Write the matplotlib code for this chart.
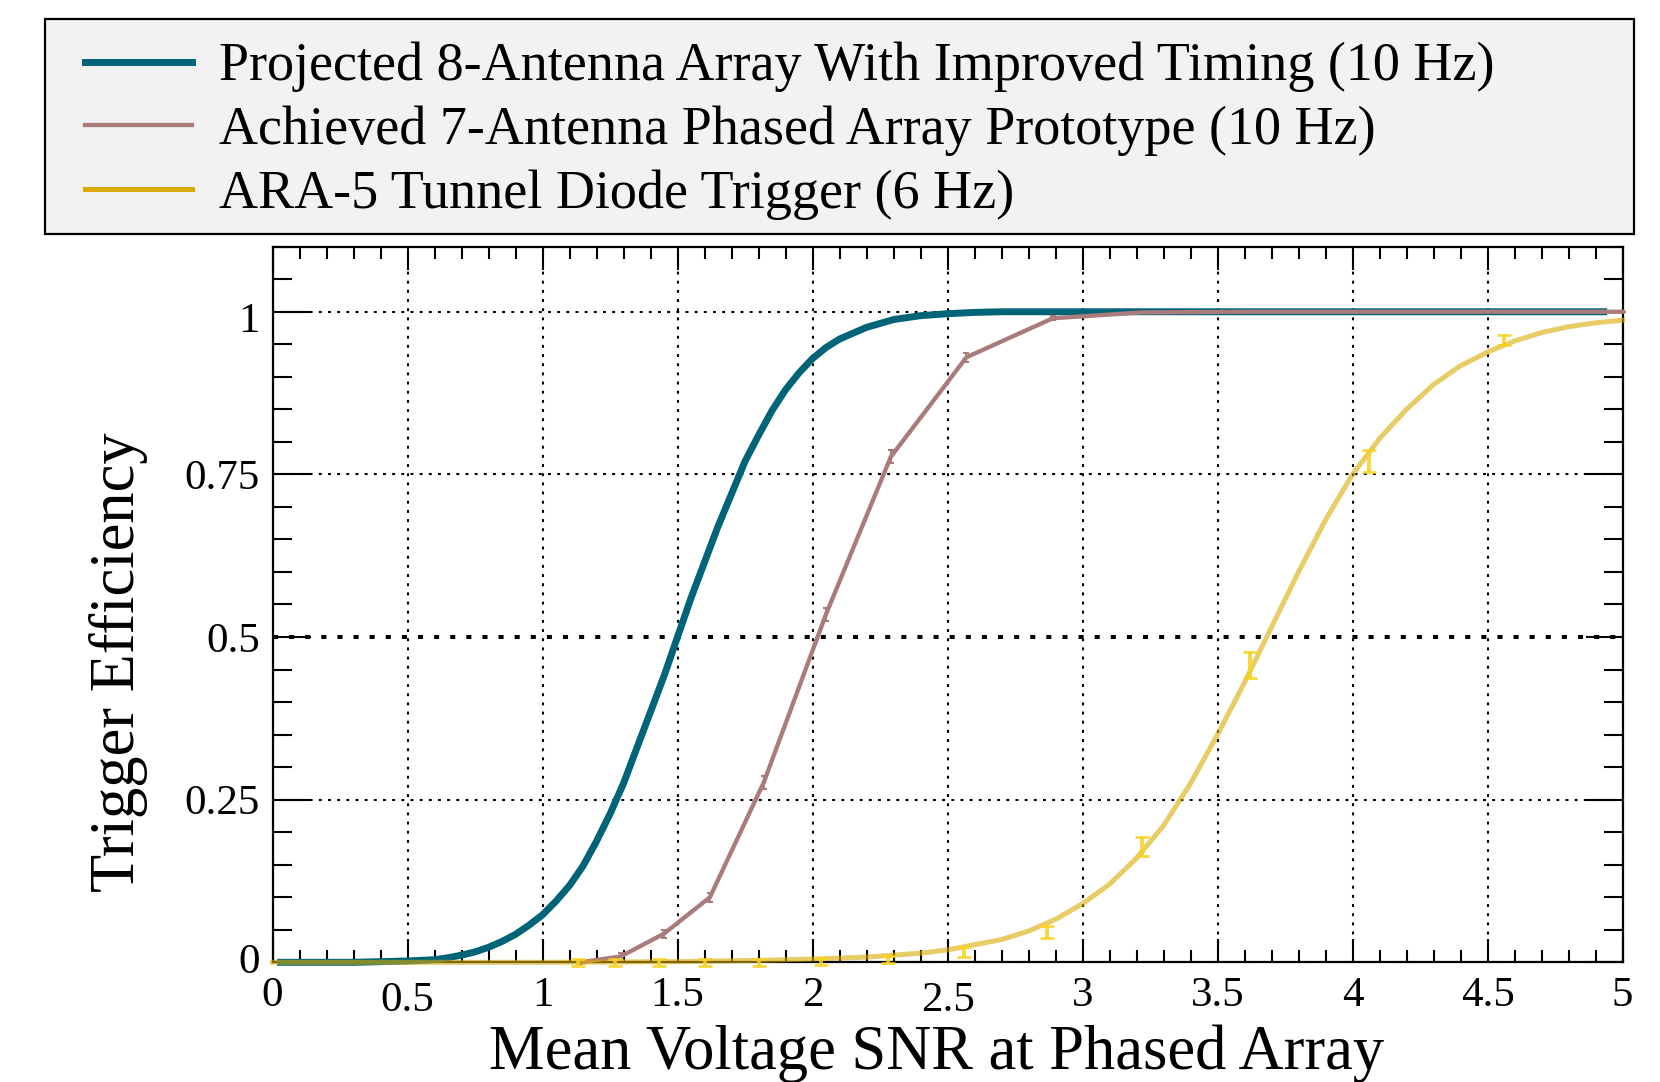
import matplotlib
matplotlib.use("Agg")
import matplotlib.pyplot as plt
import matplotlib.transforms as mtransforms
from matplotlib.patches import Rectangle
from matplotlib.ticker import MultipleLocator

plt.rcParams['font.family'] = ['Liberation Serif', 'DejaVu Serif']

# projected 8-antenna curve
proj_x = [0.03, 0.3, 0.5, 0.6, 0.65, 0.7, 0.75, 0.8, 0.85, 0.9, 0.95, 1.0, 1.05, 1.1,
          1.15, 1.2, 1.25, 1.3, 1.35, 1.4, 1.45, 1.5, 1.55, 1.6, 1.65, 1.7, 1.75, 1.8,
          1.85, 1.9, 1.95, 2.0, 2.05, 2.1, 2.2, 2.3, 2.4, 2.5, 2.6, 2.7, 2.8, 3.0, 4.93]
proj_y = [0.0, 0.0, 0.002, 0.004, 0.007, 0.011, 0.016, 0.023, 0.032, 0.043, 0.057, 0.073,
          0.094, 0.118, 0.148, 0.186, 0.228, 0.275, 0.33, 0.385, 0.44, 0.5, 0.56, 0.615,
          0.67, 0.72, 0.77, 0.81, 0.848, 0.88, 0.906, 0.928, 0.945, 0.958, 0.976, 0.988,
          0.994, 0.997, 0.999, 1.0, 1.0, 1.0, 1.0]

# achieved 7-antenna prototype points
pa_x = [1.14, 1.29, 1.45, 1.62, 1.82, 2.05, 2.29, 2.57, 2.89, 3.22, 3.62, 4.06, 4.56, 5.0]
pa_y = [0.0, 0.009, 0.044, 0.10, 0.277, 0.535, 0.777, 0.930, 0.990, 0.999, 1.0, 1.0, 1.0, 1.0]
pa_err = [0.003, 0.005, 0.006, 0.007, 0.01, 0.01, 0.01, 0.007, 0.003, 0.001, 0.0, 0.0, 0.0, 0.0]

# ARA-5 tunnel diode data points and fitted curve
ara_x = [1.13, 1.27, 1.43, 1.60, 1.80, 2.03, 2.28, 2.56, 2.87, 3.22, 3.62, 4.06, 4.56]
ara_y = [0.0, 0.0, 0.0, 0.0, 0.0, 0.001, 0.004, 0.016, 0.047, 0.178, 0.457, 0.771, 0.957]
ara_err = [0.005, 0.005, 0.005, 0.005, 0.005, 0.005, 0.005, 0.008, 0.009, 0.014, 0.02, 0.017, 0.008]

fit_x = [0.0, 1.0, 1.5, 1.8, 2.0, 2.2, 2.4, 2.5, 2.6, 2.7, 2.8, 2.9, 3.0, 3.1, 3.2, 3.3,
         3.4, 3.5, 3.6, 3.7, 3.8, 3.9, 4.0, 4.1, 4.2, 4.3, 4.4, 4.5, 4.6, 4.7, 4.8, 4.9, 5.0]
fit_y = [0.0, 0.0, 0.001, 0.003, 0.005, 0.008, 0.014, 0.019, 0.027, 0.035, 0.048, 0.066,
         0.09, 0.12, 0.16, 0.21, 0.275, 0.35, 0.43, 0.515, 0.6, 0.68, 0.75, 0.805, 0.85,
         0.888, 0.917, 0.938, 0.955, 0.968, 0.977, 0.983, 0.987]

labels = ["Projected 8-Antenna Array With Improved Timing (10 Hz)",
          "Achieved 7-Antenna Phased Array Prototype (10 Hz)",
          "ARA-5 Tunnel Diode Trigger (6 Hz)"]

blue = '#006479'
mauve = '#a97b7b'
gold = '#d9aa00'
gold_err = '#f7d21e'

W, H = 1660, 1082
fig = plt.figure(figsize=(W / 100, H / 100), dpi=100)
ax = fig.add_axes([272.5 / W, (H - 962.3) / H, 1350 / W, 715.6 / H])

l1, = ax.plot(proj_x, proj_y, color=blue, lw=5.0, zorder=3, clip_on=False, label=labels[0])
l2, = ax.plot(pa_x, pa_y, color=mauve, lw=3.1, zorder=4, clip_on=False, label=labels[1])
ax.errorbar(pa_x, pa_y, yerr=pa_err, fmt='none', ecolor=mauve, elinewidth=1.5,
            capsize=2.5, capthick=1.5, zorder=4, clip_on=False)
l3, = ax.plot(fit_x, fit_y, color=gold, lw=3.6, alpha=0.6, zorder=5, clip_on=False,
              label=labels[2])
ax.errorbar(ara_x, ara_y, yerr=ara_err, fmt='none', ecolor=gold_err, elinewidth=2.8,
            capsize=5, capthick=2.0, alpha=0.85, zorder=6, clip_on=False)

# 50% reference line
ax.axhline(0.5, color='black', lw=2.9, ls=(0, (1.25, 2.75)), zorder=2)

ax.set_xlim(0, 5)
ax.set_ylim(0, 1.1)
ax.xaxis.set_major_locator(MultipleLocator(0.5))
ax.xaxis.set_minor_locator(MultipleLocator(0.1))
ax.yaxis.set_major_locator(MultipleLocator(0.25))
ax.yaxis.set_minor_locator(MultipleLocator(0.05))
ax.set_xticks([0, 0.5, 1, 1.5, 2, 2.5, 3, 3.5, 4, 4.5, 5])
ax.set_xticklabels(['0', '0.5', '1', '1.5', '2', '2.5', '3', '3.5', '4', '4.5', '5'])
ax.set_yticks([0, 0.25, 0.5, 0.75, 1])
ax.set_yticklabels(['0', '0.25', '0.5', '0.75', '1'])

ax.grid(True, which='major', color='black', lw=1.5, ls=(0, (1.4, 3.0)))
# the 0.5 grid line is covered by the thick reference line
ax.yaxis.get_gridlines()[2].set_visible(False)
ax.tick_params(which='both', direction='in', top=True, right=True, width=1.5,
               labelsize=31, colors='black')
ax.tick_params(axis='x', which='major', length=16.5, pad=10)
ax.tick_params(axis='x', which='minor', length=8.6)
ax.tick_params(axis='y', which='major', length=27, pad=9)
ax.tick_params(axis='y', which='minor', length=13.7)
for sp in ax.spines.values():
    sp.set_linewidth(1.6)

# some ROOT tick labels sit a little off
def shift(lab, dy_px):
    lab.set_transform(lab.get_transform() +
                      mtransforms.ScaledTranslation(0, dy_px / 100, fig.dpi_scale_trans))

for lab in ax.get_xticklabels():
    if lab.get_text() in ('0.5', '2.5'):
        shift(lab, -5)
for lab in ax.get_yticklabels():
    if lab.get_text() == '0':
        shift(lab, 4)
    elif lab.get_text() == '1':
        shift(lab, -5)

ax.set_xlabel("Mean Voltage SNR at Phased Array", fontsize=45, va='baseline')
ax.xaxis.set_label_coords(0.492, -0.149)
ax.set_ylabel("Trigger Efficiency", fontsize=45, va='center')
ax.yaxis.set_label_coords(-0.114, 0.42)

# legend box
fig.add_artist(Rectangle((44.5 / W, 1 - 234 / H), (1633.5 - 44.5) / W, (234 - 19) / H,
                         transform=fig.transFigure, facecolor='#f2f2f2',
                         edgecolor='black', lw=1.6, zorder=0))
leg = ax.legend(handles=[l1, l2, l3], loc='upper left',
                bbox_to_anchor=(85 / W, 1 - 42 / H), bbox_transform=fig.transFigure,
                frameon=False, fontsize=39, borderpad=0, borderaxespad=0,
                handlelength=1.98, handletextpad=0.5, labelspacing=0.24)
leg.legend_handles[2].set_alpha(1.0)

fig.savefig("out.png", dpi=100)
